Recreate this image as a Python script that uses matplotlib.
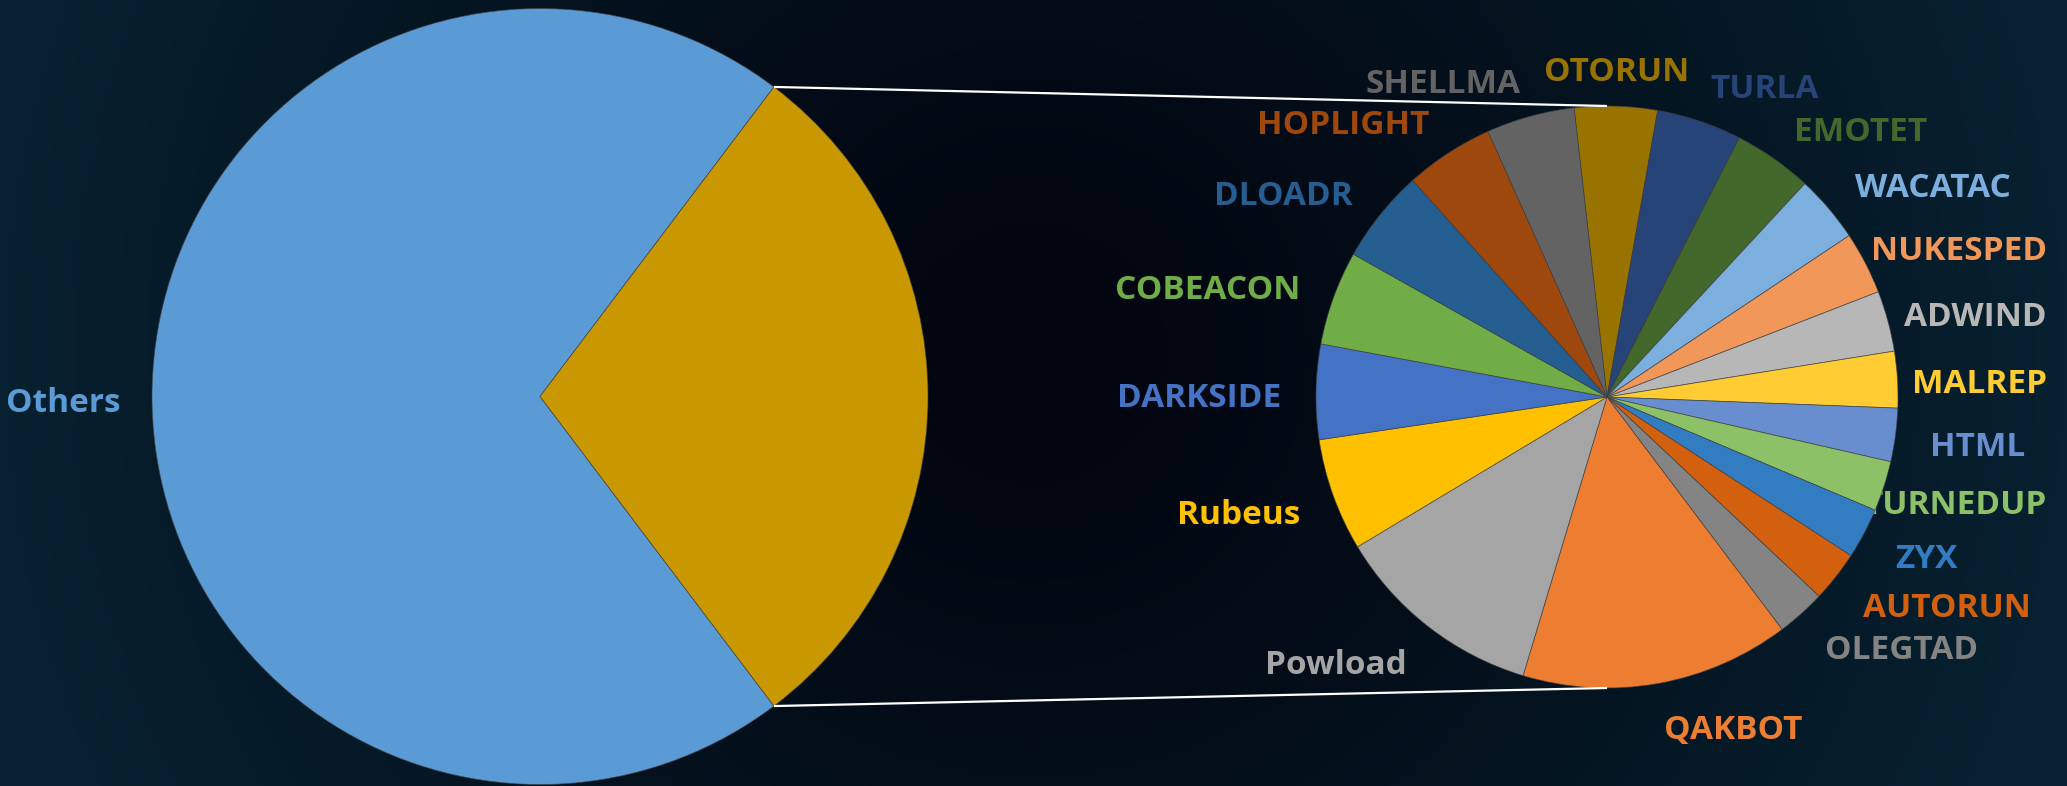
import numpy as np
import matplotlib
matplotlib.use("Agg")
import matplotlib.pyplot as plt
from matplotlib.colors import to_rgb

plt.rcParams['font.family'] = ['Open Sans', 'DejaVu Sans']

W, H = 2067, 786

# share of all samples (%), the small families are broken out in the second pie
others_share = 70.6
families = ['OTORUN', 'TURLA', 'EMOTET', 'WACATAC', 'NUKESPED', 'ADWIND', 'MALREP',
            'HTML', 'TURNEDUP', 'ZYX', 'AUTORUN', 'OLEGTAD', 'QAKBOT', 'Powload',
            'Rubeus', 'DARKSIDE', 'COBEACON', 'DLOADR', 'HOPLIGHT', 'SHELLMA']
family_share = [1.35, 1.39, 1.29, 1.10, 1.02, 0.99, 0.92,
                0.87, 0.82, 0.83, 0.83, 0.80, 4.39, 3.45,
                1.84, 1.55, 1.54, 1.53, 1.45, 1.44]
family_colors = ['#997300', '#264478', '#43682B', '#7CAFDD', '#F1975A', '#B7B7B7', '#FFCD33',
                 '#698ED0', '#8CC168', '#327DC2', '#D2600F', '#848484', '#ED7D31', '#A5A5A5',
                 '#FFC000', '#4472C4', '#70AD47', '#255E91', '#9E480E', '#636363']
others_color = '#5B9BD5'
rest_color = '#C99700'

fig = plt.figure(figsize=(W / 100, H / 100), dpi=100)

# dark navy backdrop, darkest between the two pies
bg = fig.add_axes([0, 0, 1, 1])
gx, gy = np.meshgrid(np.linspace(0, 1, 600), np.linspace(0, 1, 240))
d = np.sqrt(((gx - 0.5) / 0.5) ** 2 + ((gy - 0.55) / 1.3) ** 2)
t = np.clip(d, 0, 1) ** 1.3
dark = np.array(to_rgb('#02050f'))
teal = np.array(to_rgb('#072130'))
grad = dark + t[..., None] * (teal - dark)
bg.imshow(grad, extent=[0, 1, 0, 1], aspect='auto', origin='lower')
bg.axis('off')

ax = fig.add_axes([0, 0, 1, 1])
ax.patch.set_alpha(0)

big_c, big_r = (540, 389.5), 388
small_c, small_r = (1607, 389), 291
edge = dict(linewidth=0.6, edgecolor=(0.25, 0.25, 0.25, 0.7))

rest_share = sum(family_share)
rest_half = 180 * rest_share / (others_share + rest_share)
ax.pie([others_share, rest_share], colors=[others_color, rest_color],
       startangle=rest_half, center=big_c, radius=big_r, wedgeprops=edge)

wedges, _ = ax.pie(family_share, colors=family_colors, startangle=96.5,
                   counterclock=False, center=small_c, radius=small_r,
                   wedgeprops=edge)

# connector lines from the split slice to the top and bottom of the second pie
a = np.deg2rad(rest_half)
for s in (1, -1):
    x0 = big_c[0] + big_r * np.cos(a)
    y0 = big_c[1] + s * big_r * np.sin(a)
    ax.plot([x0, small_c[0]], [y0, small_c[1] + s * small_r],
            color='white', lw=1.6, solid_capstyle='butt', zorder=2)

fs = 24
dy = -7  # caps sit a little low against the box centre
ax.text(big_c[0] - big_r * 1.08, big_c[1] + dy, 'Others', color=others_color,
        fontsize=fs, fontweight='bold', ha='right', va='center')

labels = []
for w, name, col in zip(wedges, families, family_colors):
    m = np.deg2rad((w.theta1 + w.theta2) / 2)
    cx, sy = np.cos(m), np.sin(m)
    x = small_c[0] + 1.12 * small_r * cx
    y = small_c[1] + 1.14 * small_r * sy + dy
    ha = 'left' if cx > 0.15 else ('right' if cx < -0.15 else 'center')
    labels.append(ax.text(x, y, name, color=col, fontsize=fs, fontweight='bold',
                          ha=ha, va='center', zorder=0.5))

ax.set_xlim(0, W)
ax.set_ylim(0, H)
ax.set_aspect('equal')
ax.axis('off')

# keep the labels inside the chart area on the right
fig.canvas.draw()
r = fig.canvas.get_renderer()
for txt in labels:
    bb = txt.get_window_extent(r)
    if bb.x1 > W - 20:
        x, y = txt.get_position()
        txt.set_position((x - (bb.x1 - (W - 20)), y))

fig.savefig('out.png', dpi=100)
